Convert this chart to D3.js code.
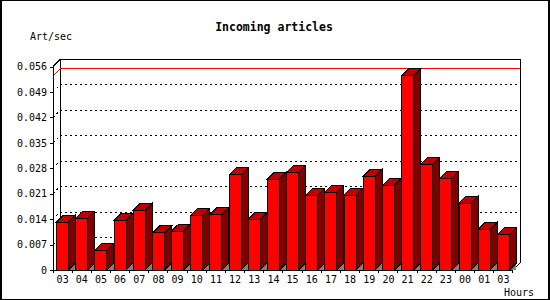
<!DOCTYPE html>
<html>
<head>
<meta charset="utf-8">
<script src="https://cdn.jsdelivr.net/npm/d3@7"></script>
<style>
  body { margin: 0; background: #fff; }
  text { font-family: "DejaVu Sans Mono", monospace; fill: #000; }
</style>
</head>
<body>
<script>
// data
var hours = ["03","04","05","06","07","08","09","10","11","12","13","14",
             "15","16","17","18","19","20","21","22","23","00","01","03"];
var artPerSec = [0.0132, 0.0142, 0.0055, 0.0137, 0.0165, 0.0102, 0.0107, 0.0151,
                 0.0153, 0.0262, 0.0140, 0.0250, 0.0269, 0.0206, 0.0214, 0.0206,
                 0.0258, 0.0233, 0.0534, 0.0291, 0.0253, 0.0184, 0.0112, 0.0098];
var yTicks = [0, 0.007, 0.014, 0.021, 0.028, 0.035, 0.042, 0.049, 0.056];
var yTickLabels = ["0","0.007","0.014","0.021","0.028","0.035","0.042","0.049","0.056"];

var W = 550, H = 300;
var dx = 7, dy = 7;   // 3d depth

var svg = d3.select("body").append("svg")
  .attr("width", W)
  .attr("height", H)
  .attr("shape-rendering", "crispEdges");

// frame round the picture
svg.append("rect").attr("x", 0).attr("y", 0).attr("width", 2).attr("height", H).attr("fill", "#000");
svg.append("rect").attr("x", W - 2).attr("y", 0).attr("width", 2).attr("height", H).attr("fill", "#000");
svg.append("rect").attr("x", 0).attr("y", 0).attr("width", W).attr("height", 1).attr("fill", "#000");
svg.append("rect").attr("x", 0).attr("y", H - 1).attr("width", W).attr("height", 1).attr("fill", "#000");

var x = d3.scaleBand()
  .domain(d3.range(hours.length))
  .range([53, 513])
  .paddingInner(0.375)
  .paddingOuter(0.19);
var step = x.step(), bw = x.bandwidth();

var y = d3.scaleLinear()
  .domain([0, 0.056])
  .range([270, 66.5]);

var line = d3.line();

// back plane frame
var yTop = y(0.056);
svg.append("path")
  .attr("d", line([[53, yTop], [53 + dx, yTop - dy], [513 + dx, yTop - dy], [513 + dx, y(0) - dy], [513, y(0)]]))
  .attr("fill", "none").attr("stroke", "#000");
svg.append("path")
  .attr("d", line([[53 + dx, yTop - dy], [53 + dx, y(0) - dy]]))
  .attr("fill", "none").attr("stroke", "#000");

// dashed grid lines
yTicks.filter(function(v) { return v > 0 && v < 0.056; }).forEach(function(v) {
  svg.append("path")
    .attr("d", line([[53, y(v)], [53 + dx, y(v) - dy], [513 + dx, y(v) - dy]]))
    .attr("fill", "none")
    .attr("stroke", "#000")
    .attr("stroke-dasharray", "2,3");
});

// max line
var maxV = d3.max(artPerSec);
svg.append("path")
  .attr("d", line([[53, y(maxV)], [53 + dx, y(maxV) - dy], [513 + dx, y(maxV) - dy]]))
  .attr("fill", "none").attr("stroke", "#ff0000");

// bars
var bars = svg.append("g").selectAll("g").data(artPerSec).enter().append("g");

bars.append("path")   // floor shadow
  .attr("d", function(d, i) {
    var x1 = x(i) + bw;
    return line([[x1, y(0)], [x1 + dx, y(0) - dy], [x1 + dx, y(0)]]) + "Z";
  })
  .attr("fill", "#808080");

bars.append("path")   // side
  .attr("d", function(d, i) {
    var x1 = x(i) + bw;
    return line([[x1, y(0)], [x1, y(d)], [x1 + dx, y(d) - dy], [x1 + dx, y(0) - dy]]) + "Z";
  })
  .attr("fill", "#800000").attr("stroke", "#000");

bars.append("path")   // top
  .attr("d", function(d, i) {
    var x0 = x(i), x1 = x(i) + bw;
    return line([[x0, y(d)], [x0 + dx, y(d) - dy], [x1 + dx, y(d) - dy], [x1, y(d)]]) + "Z";
  })
  .attr("fill", "#c00000").attr("stroke", "#000");

bars.append("rect")   // front
  .attr("x", function(d, i) { return x(i); })
  .attr("y", function(d) { return y(d); })
  .attr("width", bw)
  .attr("height", function(d) { return y(0) - y(d); })
  .attr("fill", "#ff0000").attr("stroke", "#000");

// axes
var yAxis = svg.append("g")
  .attr("transform", "translate(53,0)")
  .call(d3.axisLeft(y).tickValues(yTicks)
    .tickFormat(function(d, i) { return yTickLabels[i]; })
    .tickSize(3).tickSizeOuter(0).tickPadding(3));
yAxis.selectAll("text").style("font-size", "10px").style("font-family", "DejaVu Sans Mono");

var xAxis = svg.append("g")
  .attr("transform", "translate(0," + y(0) + ")")
  .call(d3.axisBottom(x)
    .tickFormat(function(i) { return hours[i]; })
    .tickSize(0).tickSizeOuter(0).tickPadding(6));
xAxis.select(".domain").remove();
xAxis.selectAll("text").style("font-size", "10px").style("font-family", "DejaVu Sans Mono");

svg.append("path")
  .attr("d", line([[53, y(0)], [513, y(0)]]))
  .attr("stroke", "#000");
svg.append("g").selectAll("line")
  .data(d3.range(hours.length + 1))
  .enter().append("line")
  .attr("x1", function(k) { return 53 + k * step; })
  .attr("x2", function(k) { return 53 + k * step; })
  .attr("y1", y(0)).attr("y2", y(0) + 3)
  .attr("stroke", "#000");

// texts
svg.append("text")
  .attr("x", 274).attr("y", 31)
  .attr("text-anchor", "middle")
  .style("font-size", "11.5px").style("font-weight", "bold")
  .text("Incoming articles");
svg.append("text")
  .attr("x", 30).attr("y", 40)
  .style("font-size", "10px")
  .text("Art/sec");
svg.append("text")
  .attr("x", 504).attr("y", 295.5)
  .style("font-size", "10px")
  .text("Hours");
</script>
</body>
</html>
